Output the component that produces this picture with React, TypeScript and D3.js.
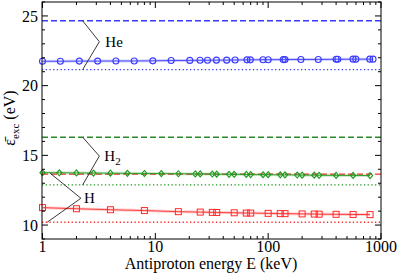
import React, { useEffect, useRef } from "react";
import * as d3 from "d3";

// reference levels (eV)
const heDashed = 24.65;
const heDotted = 21.15;
const h2Dashed = 16.3;
const h2Dotted = 12.88;
const hDashed = 13.65;
const hDotted = 10.2;

// He (circles)
const heEnergy = [1, 1.44, 2.12, 3.08, 4.47, 6.5, 9.5, 13.8, 20.2, 24.9, 29, 34.8, 42.9, 50.9, 64.9, 69.5, 90, 100, 136, 141, 195, 278, 400, 414, 565, 598, 795, 850];
const heValues = [21.75, 21.75, 21.76, 21.76, 21.77, 21.77, 21.78, 21.8, 21.81, 21.82, 21.82, 21.83, 21.83, 21.84, 21.85, 21.85, 21.86, 21.86, 21.87, 21.87, 21.88, 21.88, 21.89, 21.89, 21.9, 21.9, 21.9, 21.9];

// H2 (diamonds)
const h2Energy = [1, 1.41, 2, 2.83, 4, 5.66, 8, 11.3, 16, 22.6, 25, 32, 35, 45, 50, 64, 70, 90, 100, 128, 141, 181, 200, 256, 283, 400, 566, 800];
const h2Values = [13.76, 13.75, 13.74, 13.73, 13.72, 13.71, 13.7, 13.69, 13.68, 13.67, 13.67, 13.66, 13.65, 13.64, 13.64, 13.63, 13.62, 13.61, 13.61, 13.6, 13.6, 13.59, 13.58, 13.58, 13.57, 13.56, 13.56, 13.55];

// H (squares)
const hEnergy = [1, 2, 4, 8, 16, 25, 32, 35, 50, 64, 70, 100, 128, 141, 200, 256, 283, 400, 566, 800];
const hValues = [11.25, 11.17, 11.1, 11.04, 10.96, 10.93, 10.91, 10.9, 10.88, 10.86, 10.86, 10.84, 10.82, 10.82, 10.8, 10.79, 10.78, 10.77, 10.76, 10.75];

const xTicks = [1, 10, 100, 1000];
const yTicks = [10, 15, 20, 25];

const App = () => {
  const svgRef = useRef<SVGSVGElement>(null);

  useEffect(() => {
    const w = 399;
    const h = 274;
    const left = 42, right = 381, top = 2, bottom = 239;
    const font = "Liberation Serif, Tinos, Times New Roman, DejaVu Serif, serif";

    const svg = d3.select(svgRef.current);
    svg.selectAll("*").remove();
    svg.attr("width", w).attr("height", h).style("font-family", font);

    const x = d3.scaleLog().domain([0.99, 1000]).range([left, right]);
    const y = d3.scaleLinear().domain([9, 26]).range([bottom, top]);

    const blue = "#3a3aff";
    const green = "#1e9a1e";
    const red = "#ff2a2a";

    // horizontal reference lines
    const hline = (v: number, color: string, dash: string) =>
      svg.append("line")
        .attr("x1", left).attr("x2", right)
        .attr("y1", y(v)).attr("y2", y(v))
        .attr("stroke", color).attr("stroke-width", 1.4)
        .attr("stroke-dasharray", dash);

    hline(heDashed, blue, "6,3");
    hline(heDotted, blue, "1.3,2.4");
    hline(h2Dashed, "#2a8a2a", "6,3");
    hline(h2Dotted, green, "1.3,2.4");
    hline(hDashed, red, "6,3");
    hline(hDotted, red, "1.3,2.4");

    const line = d3.line<[number, number]>().x(d => x(d[0])).y(d => y(d[1]));

    const series = (en: number[], vals: number[], color: string, shape: string) => {
      const pts = en.map((e, i) => [e, vals[i]] as [number, number]);
      svg.append("path").attr("d", line(pts)).attr("fill", "none")
        .attr("stroke", color).attr("stroke-opacity", 0.22).attr("stroke-width", 3);
      svg.append("path").attr("d", line(pts)).attr("fill", "none")
        .attr("stroke", color).attr("stroke-width", 0.9);
      const g = svg.append("g");
      pts.forEach(p => {
        const cx = x(p[0]), cy = y(p[1]);
        if (shape === "circle") {
          g.append("circle").attr("cx", cx).attr("cy", cy).attr("r", 3)
            .attr("fill", "none").attr("stroke", color).attr("stroke-width", 1.1);
        } else if (shape === "square") {
          g.append("rect").attr("x", cx - 3).attr("y", cy - 3).attr("width", 6).attr("height", 6)
            .attr("fill", "none").attr("stroke", color).attr("stroke-width", 1);
        } else {
          g.append("path").attr("d", `M${cx},${cy - 3}L${cx + 2.6},${cy}L${cx},${cy + 3}L${cx - 2.6},${cy}Z`)
            .attr("fill", "none").attr("stroke", color).attr("stroke-width", 1.1);
        }
      });
    };

    series(hEnergy, hValues, red, "square");
    series(h2Energy, h2Values, green, "diamond");
    series(heEnergy, heValues, blue, "circle");

    // leader brackets and labels
    const bracket = (pts: [number, number][]) =>
      svg.append("path").attr("d", line(pts)).attr("fill", "none")
        .attr("stroke", "#222").attr("stroke-width", 0.9);

    bracket([[2.27, heDashed], [3.19, 23.15], [2.27, heDotted]]);
    bracket([[2.27, h2Dashed], [3.19, 14.95], [2.27, h2Dotted]]);
    bracket([[1.17, 13.72], [2.19, 11.92], [1.1, hDotted]]);

    svg.append("text").attr("x", x(3.19) + 6).attr("y", y(23.15) + 5)
      .attr("font-size", 15).text("He");
    const h2t = svg.append("text").attr("x", x(3.19) + 5).attr("y", y(14.95) + 5)
      .attr("font-size", 15);
    h2t.append("tspan").text("H");
    h2t.append("tspan").attr("dy", 4).attr("font-size", 11).text("2");
    svg.append("text").attr("x", x(2.19) + 3).attr("y", y(11.92) + 5)
      .attr("font-size", 15).text("H");

    // frame
    svg.append("rect").attr("x", left).attr("y", top).attr("width", right - left).attr("height", bottom - top)
      .attr("fill", "none").attr("stroke", "#000").attr("stroke-width", 1);

    // ticks on all four sides, pointing inward
    const ticks = svg.append("g").attr("stroke", "#000").attr("stroke-width", 1);
    const minorX: number[] = [];
    [1, 10, 100].forEach(d => { for (let k = 2; k <= 9; k++) minorX.push(d * k); });
    xTicks.forEach(t => {
      ticks.append("line").attr("x1", x(t)).attr("x2", x(t)).attr("y1", bottom).attr("y2", bottom - 6);
      ticks.append("line").attr("x1", x(t)).attr("x2", x(t)).attr("y1", top).attr("y2", top + 6);
    });
    minorX.forEach(t => {
      ticks.append("line").attr("x1", x(t)).attr("x2", x(t)).attr("y1", bottom).attr("y2", bottom - 3);
      ticks.append("line").attr("x1", x(t)).attr("x2", x(t)).attr("y1", top).attr("y2", top + 3);
    });
    d3.range(9, 27).forEach(v => {
      const len = yTicks.includes(v) ? 6 : 3;
      ticks.append("line").attr("x1", left).attr("x2", left + len).attr("y1", y(v)).attr("y2", y(v));
      ticks.append("line").attr("x1", right).attr("x2", right - len).attr("y1", y(v)).attr("y2", y(v));
    });

    // tick labels
    xTicks.forEach(t => {
      svg.append("text").attr("x", x(t)).attr("y", 252).attr("text-anchor", "middle")
        .attr("font-size", 16).text(String(t));
    });
    yTicks.forEach(t => {
      svg.append("text").attr("x", 38).attr("y", y(t)).attr("dy", "0.35em").attr("text-anchor", "end")
        .attr("font-size", 16).text(String(t));
    });

    // axis titles
    svg.append("text").attr("x", 211).attr("y", 269).attr("text-anchor", "middle")
      .attr("font-size", 16).text("Antiproton energy E (keV)");

    const yl = svg.append("text").attr("transform", "translate(15,118) rotate(-90)")
      .attr("text-anchor", "middle").attr("font-size", 16);
    yl.append("tspan").text("\u03B5\u0304");
    yl.append("tspan").attr("dy", 4).attr("font-size", 11).text("exc");
    yl.append("tspan").attr("dy", -4).text(" (eV)");
  }, []);

  return <svg ref={svgRef} style={{ position: "absolute", left: 0, top: 0 }}></svg>;
};

export default App;
